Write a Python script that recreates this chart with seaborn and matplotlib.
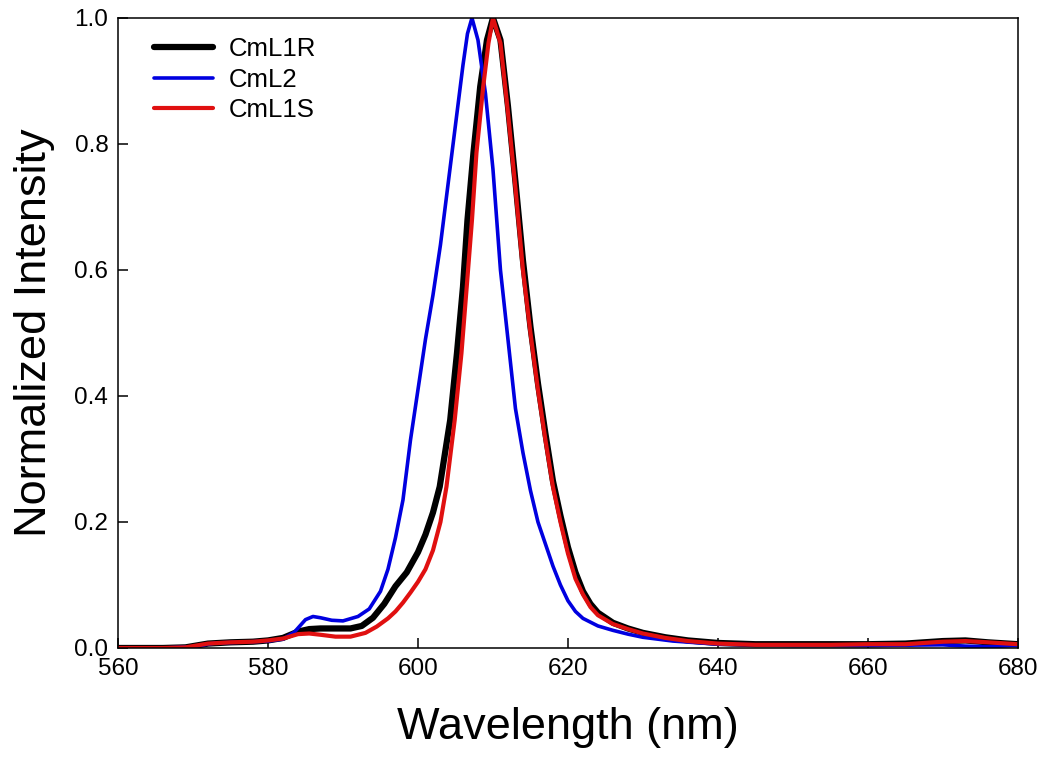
import numpy as np
import pandas as pd
import seaborn as sns
import matplotlib.pyplot as plt

# CmL1R (black)
wl_r = [560, 566, 569, 572, 575, 578, 580, 582, 584, 585.5, 587, 589, 591, 592.5, 594, 595.5,
        597, 598.5, 600, 601, 602, 602.9, 604.3, 605.2, 606, 606.6, 607.4, 608.3, 609.2, 610,
        611, 612, 613, 614, 615, 616, 617, 618, 619, 620, 621, 622, 623, 624, 626, 628, 630,
        633, 636, 640, 645, 650, 655, 660, 665, 670, 673, 676, 680]
int_r = [0, 0, 0.001, 0.007, 0.009, 0.010, 0.012, 0.016, 0.026, 0.030, 0.031, 0.031, 0.031, 0.035, 0.048, 0.070,
         0.098, 0.120, 0.152, 0.180, 0.215, 0.256, 0.362, 0.468, 0.573, 0.679, 0.786, 0.891, 0.965, 1.0,
         0.965, 0.86, 0.74, 0.615, 0.51, 0.42, 0.34, 0.265, 0.21, 0.16, 0.12, 0.09, 0.07, 0.056, 0.040, 0.031, 0.024,
         0.017, 0.012, 0.008, 0.006, 0.006, 0.006, 0.006, 0.007, 0.011, 0.012, 0.009, 0.006]

# CmL2 (blue)
wl_2 = [560, 566, 570, 573, 576, 580, 582, 583.5, 585, 586, 587, 588.5, 590, 592, 593.5, 595,
        596, 597, 598, 599, 600, 601, 602, 603, 604, 605, 606, 606.6, 607.2,
        608, 609, 610, 611, 612, 613, 614, 615, 616, 617, 618, 619, 620, 621, 622, 624, 626,
        628, 630, 634, 640, 650, 660, 670, 673, 676, 680]
int_2 = [0, 0, 0.002, 0.008, 0.009, 0.011, 0.014, 0.025, 0.045, 0.050, 0.048, 0.044, 0.043, 0.050, 0.062, 0.090,
         0.125, 0.175, 0.235, 0.33, 0.41, 0.49, 0.56, 0.64, 0.735, 0.83, 0.925, 0.975, 1.0,
         0.965, 0.88, 0.76, 0.60, 0.49, 0.38, 0.31, 0.25, 0.20, 0.165, 0.13, 0.10, 0.075, 0.058, 0.047, 0.035, 0.028,
         0.022, 0.017, 0.011, 0.006, 0.004, 0.004, 0.005, 0.003, 0.002, 0.004]

# CmL1S (red)
wl_s = [560, 566, 569, 572, 575, 578, 580, 582, 584, 585.5, 587, 589, 591, 593, 594.5, 596,
        597, 598, 599, 600, 601, 602, 603, 603.8, 604.9, 605.8, 606.5, 607.2, 607.8, 608.7, 609.4, 610,
        611, 612, 613, 614, 615, 616, 617, 618, 619, 620, 621, 622, 623, 624, 626, 628, 630,
        633, 636, 640, 645, 650, 655, 660, 665, 670, 673, 676, 680]
int_s = [0, 0, 0.001, 0.007, 0.009, 0.010, 0.012, 0.015, 0.022, 0.023, 0.021, 0.018, 0.018, 0.024, 0.034, 0.047,
         0.058, 0.072, 0.088, 0.105, 0.125, 0.155, 0.20, 0.256, 0.362, 0.468, 0.573, 0.679, 0.786, 0.891, 0.96, 1.0,
         0.96, 0.85, 0.73, 0.60, 0.50, 0.41, 0.33, 0.256, 0.20, 0.15, 0.11, 0.085, 0.065, 0.052, 0.038, 0.030, 0.023,
         0.016, 0.011, 0.007, 0.005, 0.005, 0.005, 0.006, 0.006, 0.010, 0.011, 0.009, 0.006]

x_ticks = [560, 580, 600, 620, 640, 660, 680]
y_ticks = [0.0, 0.2, 0.4, 0.6, 0.8, 1.0]

sns.set_style("ticks")
plt.rcParams['font.family'] = ['Liberation Sans', 'DejaVu Sans']
plt.rcParams['text.color'] = 'black'
plt.rcParams['axes.labelcolor'] = 'black'

fig = plt.figure(figsize=(10.5, 7.74), dpi=100)
ax = fig.add_axes([0.1124, 0.1628, 0.857, 0.814])

sns.lineplot(x=wl_r, y=int_r, color='black', lw=4.5, ax=ax, label='CmL1R')
sns.lineplot(x=wl_2, y=int_2, color='#0000e0', lw=2.6, ax=ax, label='CmL2')
sns.lineplot(x=wl_s, y=int_s, color='#e01010', lw=3.0, ax=ax, label='CmL1S')

ax.set_xlim(560, 680)
ax.set_ylim(0, 1.0)
ax.set_xticks(x_ticks)
ax.set_yticks(y_ticks)
ax.set_yticklabels(['%.1f' % v for v in y_ticks])
ax.tick_params(direction='in', length=7, width=1.1, labelsize=17.5, pad=7, colors='black')
for sp in ax.spines.values():
    sp.set_linewidth(1.1)
    sp.set_color('black')

ax.set_xlabel('Wavelength (nm)', fontsize=32.5, labelpad=20)
ax.set_ylabel('Normalized Intensity', fontsize=32.5, labelpad=14)

ax.legend(loc='upper left', bbox_to_anchor=(0.014, 1.006), frameon=False, fontsize=18.5,
          handlelength=2.3, handletextpad=0.6, labelspacing=0.25)

fig.savefig('out.png', dpi=100)
